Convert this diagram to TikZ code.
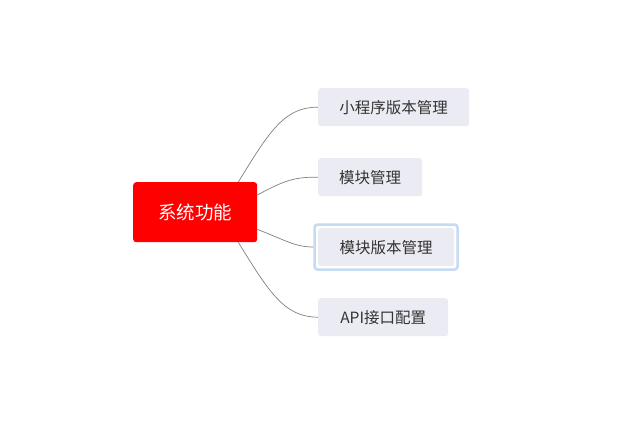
\documentclass[tikz,border=0pt]{standalone}
\usepackage{fontspec}
\newfontfamily\cjk{Noto Sans CJK SC}
\definecolor{childfill}{HTML}{EBEBF3}
\definecolor{txt}{HTML}{333333}
\definecolor{hl}{HTML}{C6DAF3}
\definecolor{edge}{HTML}{808080}
\begin{document}
\begin{tikzpicture}[x=1pt,y=-1pt,
  root/.style={fill=red, rounded corners=3pt, text=white, font=\cjk\fontsize{18.5}{20}\selectfont, inner sep=0pt, anchor=north west},
  child/.style={fill=childfill, rounded corners=3pt, text=txt, font=\cjk\fontsize{15.5}{18}\selectfont, inner sep=0pt, anchor=north west},
  link/.style={draw=edge, line width=0.7pt}]
\useasboundingbox (0,0) rectangle (619,429);
\fill[white] (0,0) rectangle (619,429);
\node[root, minimum width=124pt, minimum height=60pt] (r) at (133,182) {系统功能};
\node[child, minimum width=151pt, minimum height=38pt] (c1) at (318,88) {小程序版本管理};
\node[child, minimum width=104pt, minimum height=38pt] (c2) at (318,158) {模块管理};
\draw[hl, line width=2.5pt, rounded corners=3pt] (314.5,224.5) rectangle (457.5,269.5);
\node[child, minimum width=136pt, minimum height=38pt] (c3) at (318,228) {模块版本管理};
\node[child, minimum width=130pt, minimum height=38pt] (c4) at (318,298) {API接口配置};
\coordinate (e3) at (313,247);
\draw[link] ([xshift=-19pt]r.north east) .. controls (270,130) and (285,107) .. (c1.west);
\draw[link] ([yshift=-13pt]r.north east) .. controls (285,180) and (295,177) .. (c2.west);
\draw[link] ([yshift=13pt]r.south east) .. controls (285,240) and (295,247) .. (e3);
\draw[link] ([xshift=-19pt]r.south east) .. controls (270,294) and (285,317) .. (c4.west);
\end{tikzpicture}
\end{document}
